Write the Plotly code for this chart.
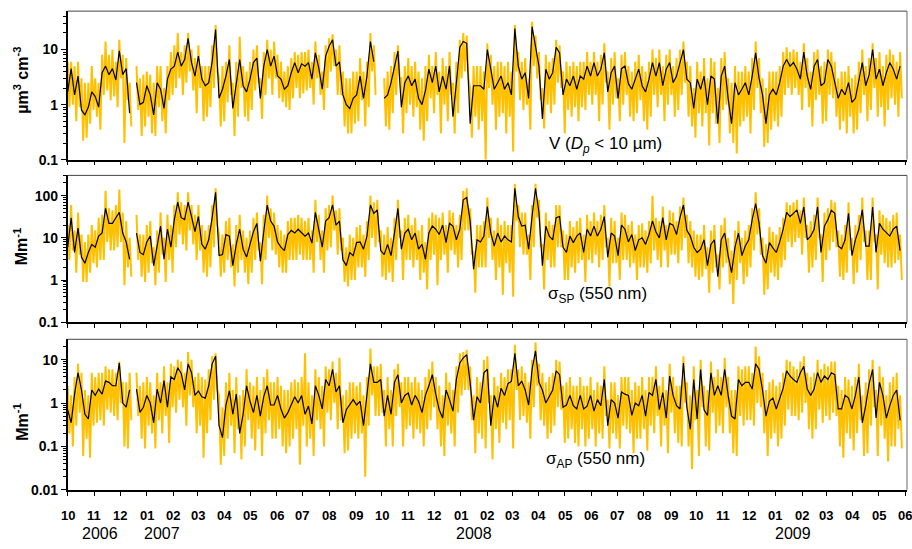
import plotly.graph_objects as go
import pandas as pd

# ---------------- data (4-day steps from 2006-10-01) ----------------
START = "2006-10-01"

# Panel 1: V (Dp < 10 um), um3 cm-3
v_daily = [
    1.7, 4.5, 1.5, 3.3, 0.8, 0.65, 0.9, 1.7, 1.4, 0.9,
    3.8, 5.0, 3.5, 4.5, 2.8, 9.5, 3.5, 4.5, 0.7, None,
    2.5, 1.0, 1.1, 2.2, 1.5, 0.65, 2.5, 1.9, 0.85, 2.9,
    4.4, 5.0, 9.0, 5.0, 6.6, 16, 5.8, 3.3, 7.6, 2.9,
    2.2, 2.5, 6.0, 23, 1.3, 1.9, 3.3, 6.6, 0.85, 2.5,
    6.6, 2.2, 1.7, 2.9, 5.8, 7.0, 1.3, 5.0, 10, 5.0,
    7.6, 3.3, 2.9, 1.9, 2.2, 3.8, 5.8, 3.8, 5.5, 5.0,
    5.8, 2.9, 8.7, 4.6, 1.9, 7.6, 11.5, 15, 5.0, 6.0,
    1.5, 1.0, 0.85, 1.3, 1.5, 3.3, 1.3, 3.3, 14, 6.0,
    None, None, 1.3, 1.5, 2.5, 5.0, 9.4, 0.9, 2.5, 3.3,
    2.2, 2.9, 1.3, 1.0, 1.8, 4.4, 2.5, 5.0, 1.7, 3.3,
    1.9, 5.0, 0.6, 2.5, 11, 14, 13, 0.45, 2.2, 2.2,
    2.2, 1.9, 10, 4.4, 1.9, 2.5, 3.3, 1.9, 2.5, 1.5,
    24, 5.0, 2.9, 3.8, 1.3, 26, 12, 5.0, 0.55, 4.4,
    2.9, 3.8, 11, 8.7, 1.5, 2.9, 2.2, 3.3, 1.9, 3.3,
    2.9, 5.0, 3.3, 5.8, 3.3, 4.4, 8.7, 1.7, 3.8, 5.0,
    1.3, 4.5, 5.0, 2.4, 1.9, 2.9, 4.4, 2.2, 1.7, 2.9,
    5.8, 3.3, 5.8, 2.2, 4.4, 5.8, 2.5, 3.3, 5.8, 10,
    2.9, 2.5, 0.85, 2.9, 1.9, 3.3, 1.0, 3.3, 2.9, 0.45,
    3.3, 5.0, 1.3, 0.45, 2.5, 1.5, 1.9, 2.5, 1.5, 3.3,
    8.7, 3.0, 1.5, 0.45, 1.5, 1.9, 1.5, 2.5, 5.0, 6.6,
    5.0, 5.8, 4.4, 2.9, 9.0, 3.3, 1.9, 5.0, 6.6, 2.2,
    2.5, 6.6, 5.0, 2.5, 1.3, 1.9, 1.5, 2.5, 1.1, 1.3,
    2.9, 5.8, 2.2, 3.5, 10, 2.9, 4.4, 2.2, 3.8, 5.8,
    4.4, 2.9, 5.0,
]
v_hi = [
    6, 6, 5, 6, 3, 2.5, 2.5, 5, 3, 2.5,
    8, 14, 8, 10, 6, 15, 8, 7, 2.5, None,
    5, 3, 3.5, 4, 3.5, 2.5, 5, 5, 2, 5,
    9, 12, 20, 9, 12, 20, 10, 7, 12, 5,
    5, 5, 12, 28, 3, 5, 6, 12, 2.5, 6,
    17, 5, 4, 6, 10, 12, 3, 9, 15, 10,
    14, 8, 6, 4, 5, 7, 9, 8, 9, 9,
    10, 6, 14, 8, 4, 12, 16, 19, 10, 12,
    4, 3, 3, 4, 4, 7, 4, 6, 20, 12,
    None, None, 3, 4, 5, 9, 12, 3, 5, 7,
    5, 6, 4, 3, 5, 8, 5, 9, 4, 7,
    5, 9, 2.5, 6, 15, 20, 18, 2, 5, 5,
    5, 4, 13, 8, 5, 6, 6, 5, 6, 4,
    28, 9, 6, 7, 3, 32, 18, 9, 2, 8,
    6, 7, 15, 12, 4, 6, 5, 6, 5, 6,
    6, 9, 6, 9, 6, 8, 13, 4, 7, 9,
    3, 8, 9, 5, 4, 6, 8, 5, 4, 6,
    10, 7, 10, 5, 8, 10, 5, 7, 10, 14,
    6, 5, 2, 6, 4, 7, 3, 7, 6, 2,
    7, 9, 3, 2.5, 5, 4, 4, 5, 4, 7,
    14, 7, 3, 2, 4, 4, 4, 5, 9, 11,
    9, 10, 9, 6, 13, 7, 4, 9, 10, 5,
    6, 10, 9, 6, 3, 4, 4, 5, 3, 3.5,
    6, 10, 5, 7, 13, 7, 9, 5, 8, 10,
    8, 6, 9,
]
v_lo = [
    0.9, 1.0, 0.5, 0.9, 0.22, 0.25, 0.45, 0.8, 0.6, 0.35,
    1.5, 1.8, 1.2, 1.4, 0.9, 3, 0.2, 1.2, 0.4, None,
    0.8, 0.27, 0.4, 0.6, 0.3, 0.27, 0.9, 0.5, 0.3, 1.2,
    1.5, 2, 3, 1.5, 2.5, 4, 1.8, 0.7, 2, 0.5,
    0.6, 0.9, 2, 4, 0.4, 0.5, 1.1, 1.5, 0.27, 0.6,
    2, 0.6, 0.5, 0.8, 1.8, 2.5, 0.55, 1.5, 3, 1.5,
    3, 1.3, 1.1, 0.9, 0.8, 1.3, 2, 1.3, 1.6, 1.8,
    2, 1, 3, 1.5, 0.8, 2, 4, 5, 1.5, 1.5,
    0.4, 0.3, 0.3, 0.45, 0.5, 1.2, 0.4, 0.9, 4, 1.5,
    None, None, 0.4, 0.35, 0.7, 1.5, 3, 0.3, 0.7, 1,
    0.6, 0.9, 0.35, 0.22, 0.5, 1.3, 0.7, 1.5, 0.3, 1,
    0.5, 1.5, 0.3, 0.7, 3, 4, 3, 0.25, 0.6, 0.35,
    0.5, 0.1, 2, 1, 0.35, 0.6, 0.7, 0.3, 0.6, 0.14,
    4, 1.2, 0.8, 1, 0.35, 5, 3, 1.2, 0.37, 1,
    0.7, 1, 2.5, 2, 0.3, 0.8, 0.6, 0.9, 0.5, 0.9,
    0.8, 1.5, 1, 1.5, 0.5, 1, 2.5, 0.35, 1, 1.3,
    0.5, 1, 1.5, 0.6, 0.5, 0.7, 1.2, 0.5, 0.35, 0.6,
    1.5, 0.9, 1.5, 0.5, 1, 1.5, 0.6, 0.8, 1.5, 2.5,
    0.6, 0.4, 0.25, 0.7, 0.4, 0.7, 0.18, 0.7, 0.45, 0.2,
    0.8, 1, 0.3, 0.2, 0.13, 0.4, 0.5, 0.6, 0.3, 0.8,
    2, 0.7, 0.17, 0.2, 0.35, 0.5, 0.4, 0.6, 1.5, 2,
    1.5, 2, 1.5, 0.8, 2, 0.9, 0.4, 1.2, 1.5, 0.45,
    0.5, 1.5, 1.3, 0.6, 0.35, 0.5, 0.3, 0.6, 0.3, 0.35,
    0.7, 1.5, 0.5, 0.8, 2, 0.6, 0.9, 0.4, 0.8, 1.3,
    1, 0.6, 1.3,
]

# Panel 2: sigma_SP (550 nm), Mm-1
sp_daily = [
    6, 30, 4.5, 17, 3.5, 2.5, 4.5, 7.0, 6, 11,
    13, 50, 22, 22, 30, 40, 13, 8, 3.1, None,
    13, 4.5, 4, 8, 11, 2.2, 6.4, 19, 3.1, 16,
    6, 27, 70, 30, 27, 70, 32, 14, 32, 7,
    5.4, 9, 30, 120, 3.8, 4, 12, 11, 2.2, 7,
    16, 5.4, 3.5, 7, 14, 22, 2.8, 14, 60, 25,
    19, 8, 6, 5, 12, 15, 13, 16, 13, 11,
    13, 7.5, 40, 15, 6, 25, 30, 60, 20, 25,
    3, 2.2, 4.5, 3.8, 7.7, 8, 5.4, 11, 60, 38,
    46, 5, 4, 7, 3.8, 13, 50, 5.4, 13, 16,
    9, 13, 5.4, 7, 3.1, 13, 19, 16, 12, 20,
    7.7, 22, 19, 9, 16, 80, 90, 25, 1.8, 9,
    8, 11, 55, 13, 6.4, 13, 8, 11, 9, 8,
    150, 32, 19, 20, 5.4, 32, 150, 40, 2.2, 19,
    11, 9, 30, 32, 6, 4.5, 11, 7.7, 11, 13,
    4.5, 16, 11, 19, 11, 16, 32, 3.5, 13, 11,
    3.8, 20, 16, 8, 12, 5, 9, 10, 7, 12,
    25, 14, 10, 30, 9, 22, 20, 12, 30, 60,
    15, 11, 6, 4.5, 5.4, 9, 2.2, 7, 9, 1.2,
    9, 13, 3.8, 1.5, 6, 13, 3.8, 6.4, 9, 27,
    65, 22, 3.8, 2.5, 7.7, 5.8, 4.5, 8, 16, 40,
    32, 38, 46, 22, 54, 9, 11, 16, 54, 4.5,
    19, 27, 45, 38, 6.4, 5.5, 9, 38, 3.8, 9,
    16, 46, 6.4, 6.4, 54, 4.5, 22, 16, 13, 11,
    16, 19, 5,
]
sp_hi = [
    20, 60, 15, 40, 12, 8, 12, 20, 15, 30,
    35, 130, 50, 45, 60, 140, 40, 25, 10, None,
    35, 12, 12, 20, 25, 6, 15, 40, 10, 35,
    20, 60, 120, 70, 60, 120, 60, 35, 60, 20,
    15, 20, 60, 150, 12, 12, 25, 30, 7, 20,
    35, 15, 10, 15, 30, 40, 8, 35, 100, 50,
    40, 20, 15, 12, 25, 30, 30, 35, 30, 25,
    30, 15, 80, 35, 15, 50, 60, 100, 45, 50,
    10, 6, 12, 10, 18, 20, 12, 25, 100, 70,
    80, 15, 12, 18, 10, 30, 80, 15, 30, 35,
    20, 30, 15, 20, 8, 30, 40, 35, 30, 40,
    20, 45, 40, 20, 35, 130, 150, 50, 5, 20,
    20, 25, 90, 30, 15, 30, 20, 25, 20, 20,
    190, 60, 40, 40, 12, 60, 190, 80, 7, 40,
    25, 20, 60, 60, 15, 12, 25, 18, 25, 30,
    12, 35, 25, 40, 25, 35, 60, 10, 30, 25,
    10, 40, 35, 20, 25, 12, 20, 22, 15, 25,
    100, 30, 25, 55, 20, 45, 40, 25, 55, 90,
    35, 25, 15, 12, 12, 20, 6, 15, 20, 4,
    20, 30, 10, 5, 15, 25, 10, 15, 20, 50,
    120, 50, 10, 7, 18, 14, 12, 18, 30, 70,
    60, 70, 80, 45, 90, 20, 25, 35, 90, 12,
    40, 50, 80, 70, 15, 12, 20, 70, 10, 20,
    35, 90, 15, 15, 90, 12, 45, 35, 30, 25,
    35, 40, 12,
]
sp_lo = [
    3, 5, 1.5, 4, 0.9, 0.9, 1.5, 2.5, 2, 3,
    3, 8, 5, 5, 6, 8, 0.75, 2, 1.2, None,
    3, 1.2, 0.9, 1.5, 2.5, 0.75, 1.5, 4, 0.9, 3,
    1.5, 6, 12, 7, 5, 15, 7, 3, 5, 1.5,
    1.2, 2, 6, 20, 1.2, 1.5, 3, 2, 0.7, 1.5,
    3, 1.5, 0.8, 1.5, 3, 5, 0.8, 3, 10, 5,
    4, 2, 1.5, 1.5, 3, 3, 3, 4, 3, 3,
    3, 1.5, 8, 3, 1.5, 5, 6, 15, 4, 5,
    0.9, 0.7, 1, 1, 2, 2, 1.2, 3, 10, 6,
    8, 1.2, 1, 1.5, 0.9, 3, 10, 1, 3, 3,
    2, 3, 1, 1.5, 0.6, 3, 4, 0.75, 3, 4,
    1.5, 5, 4, 2, 3, 15, 15, 4, 0.5, 2,
    2, 2, 10, 3, 1, 2, 0.45, 2.5, 1.5, 0.4,
    25, 6, 4, 4, 1, 6, 30, 6, 0.6, 3,
    2, 2, 6, 6, 1, 1, 2, 1.5, 2.5, 3,
    0.9, 3, 2.5, 4, 2, 3, 6, 0.7, 2.5, 2.5,
    1, 3, 3, 2, 2.5, 1, 2, 2, 1.5, 2.5,
    5, 3, 2, 5, 2, 4, 4, 2.5, 5, 10,
    2.5, 2, 1.2, 1, 1.2, 1.8, 0.5, 1.5, 2, 0.6,
    2, 2.5, 0.8, 0.27, 1, 2.5, 0.8, 1.2, 2, 5,
    12, 4, 0.45, 0.6, 1.5, 1.2, 1, 2, 3, 8,
    6, 8, 10, 4, 10, 1.5, 2, 3, 10, 0.9,
    3, 5, 8, 6, 1.2, 1, 1.5, 5, 0.8, 1.5,
    3, 8, 1, 1, 8, 0.6, 4, 2.5, 2, 2,
    2.5, 3, 1,
]

# Panel 3: sigma_AP (550 nm), Mm-1
ap_daily = [
    0.7, 0.35, 1.6, 5.0, 2.0, 0.55, 0.43, 2.0, 1.5, 2.1,
    1.6, 3.2, 3.0, 2.5, 2.5, 8.4, 1.0, 0.8, 2.0, None,
    2.1, 0.61, 0.8, 1.5, 1.0, 0.35, 2.1, 1.0, 3.3, 0.8,
    4.0, 3.5, 6.5, 4.8, 2.0, 8, 5, 1.5, 1.9, 1.4,
    1.3, 2.5, 8, 12, 0.3, 0.16, 0.9, 1.9, 0.55, 1.6,
    0.2, 0.55, 2.5, 1.1, 0.6, 1.5, 0.5, 1.4, 2.5, 0.9,
    0.9, 1.5, 0.73, 0.45, 0.6, 0.9, 1.4, 1.0, 1.5, 0.55,
    0.85, 0.33, 2.5, 1.5, 0.73, 3.5, 2.5, 6.0, 1.8, 2.5,
    0.35, 0.7, 0.9, 1.2, 0.9, 1.1, 0.3, 1.7, 8, 3.0,
    3.0, 3.5, 0.5, 1.5, 0.55, 3.0, 4.5, 1.0, 1.5, 1.7,
    0.9, 1.5, 1.1, 0.6, 1.5, 2.5, 4.5, 1.6, 0.7, 0.45,
    2.0, 1.2, 0.65, 3.5, 8.4, 11, 13, 3.0, 0.4, 1.4,
    1.0, 5, 6, 0.3, 1.5, 0.8, 2.2, 1.5, 2.8, 3.2,
    14, 2.5, 3.2, 2.0, 0.9, 5.9, 16, 3.0, 2.0, 1.0,
    1.4, 2.0, 5.5, 4.5, 0.8, 0.9, 1.5, 0.87, 0.73, 1.5,
    0.73, 0.85, 1.5, 0.65, 1.2, 0.87, 3.5, 0.3, 1.2, 1.0,
    0.45, 1.8, 1.6, 1.5, 0.52, 1.0, 0.87, 1.5, 0.5, 1.75,
    1.5, 3.5, 0.7, 1.75, 0.45, 4.2, 1.5, 0.87, 0.73, 8.4,
    0.8, 0.25, 3.5, 0.43, 5.9, 0.7, 0.52, 5.0, 1.5, 2.5,
    1.5, 6, 1.5, 0.5, 0.43, 3.5, 2.5, 3.0, 3.0, 2.1,
    8, 6, 2.0, 0.5, 1.1, 1.3, 0.73, 1.2, 2.2, 5.5,
    4.2, 3.5, 3.0, 5.0, 7, 2.1, 1.5, 2.1, 5, 3.0,
    4.2, 3.5, 5.0, 4.5, 0.73, 0.73, 1.5, 1.3, 0.73, 1.5,
    4, 0.35, 0.87, 2.8, 5.9, 0.45, 3.0, 1.5, 0.45, 0.87,
    1.5, 2.0, 0.4,
]
ap_hi = [
    2.5, 1.5, 4, 8, 5, 2, 1.5, 5, 4, 5,
    5, 7, 6, 6, 5, 9, 3, 3, 5, None,
    5, 2.5, 3, 4, 3, 1.5, 5, 3, 7, 3,
    8, 7, 10, 9, 5, 15, 10, 4, 5, 4,
    3.5, 6, 12, 14, 1.5, 0.8, 3, 5, 2, 4,
    1.5, 2, 6, 3, 2.5, 4, 2, 4, 6, 3,
    3, 4, 2.5, 2, 2, 3, 3.5, 3, 4, 14,
    3, 1.5, 6, 4, 2.5, 7, 6, 9, 5, 11,
    1.5, 2, 3, 3, 2.5, 3, 1.5, 4, 18, 7,
    7, 8, 2, 4, 2, 6, 8, 3, 4, 4,
    3, 4, 3, 2, 4, 6, 9, 4, 2.5, 1.5,
    5, 3, 2, 7, 14, 15, 17, 7, 1.5, 4,
    3, 10, 12, 1.5, 4, 2.5, 5, 4, 6, 6,
    22, 6, 7, 5, 3, 10, 25, 8, 5, 3,
    4, 5, 10, 9, 2.5, 3, 4, 2.5, 2.5, 4,
    2.5, 2.5, 4, 2, 3, 2.5, 7, 1.2, 3, 3,
    1.5, 4, 4, 4, 2, 3, 2.5, 4, 2, 4,
    4, 7, 2.5, 4, 2, 8, 4, 2.5, 2.5, 12,
    3, 1.5, 7, 2, 10, 2.5, 2, 9, 4, 6,
    4, 11, 4, 2, 2, 7, 6, 7, 7, 5,
    20, 12, 5, 2, 3, 3.5, 2.5, 3, 5, 10,
    9, 7, 6, 9, 12, 5, 4, 5, 10, 6,
    8, 7, 9, 9, 2.5, 2, 4, 3.5, 2.5, 4,
    8, 1.5, 3, 6, 10, 2, 7, 4, 1.5, 3,
    4, 5, 1.5,
]
ap_lo = [
    0.2, 0.1, 0.3, 0.6, 0.06, 0.15, 0.055, 0.3, 0.35, 0.4,
    0.3, 0.7, 0.6, 0.5, 0.4, 1, 0.1, 0.09, 0.4, None,
    0.5, 0.15, 0.09, 0.3, 0.2, 0.09, 0.4, 0.2, 0.5, 0.12,
    0.8, 0.6, 1.2, 0.8, 0.3, 1.5, 0.8, 0.2, 0.3, 0.055,
    0.2, 0.4, 1.2, 2, 0.038, 0.06, 0.15, 0.3, 0.07, 0.25,
    0.05, 0.1, 0.4, 0.15, 0.08, 0.25, 0.06, 0.2, 0.4, 0.15,
    0.15, 0.25, 0.1, 0.07, 0.1, 0.15, 0.25, 0.038, 0.3, 0.1,
    0.15, 0.06, 0.4, 0.25, 0.1, 0.6, 0.4, 1, 0.25, 0.4,
    0.07, 0.08, 0.15, 0.2, 0.15, 0.2, 0.02, 0.3, 1.5, 0.5,
    0.5, 0.6, 0.1, 0.25, 0.1, 0.5, 0.8, 0.1, 0.25, 0.3,
    0.15, 0.25, 0.2, 0.1, 0.25, 0.4, 0.8, 0.25, 0.1, 0.06,
    0.3, 0.2, 0.1, 0.6, 1.5, 2, 2, 0.4, 0.07, 0.2,
    0.15, 0.09, 1, 0.05, 0.25, 0.12, 0.35, 0.25, 0.4, 0.09,
    2, 0.4, 0.5, 0.35, 0.15, 0.8, 2.5, 0.4, 0.3, 0.15,
    0.2, 0.3, 0.8, 0.7, 0.12, 0.15, 0.25, 0.12, 0.1, 0.25,
    0.1, 0.15, 0.25, 0.1, 0.2, 0.15, 0.5, 0.09, 0.2, 0.15,
    0.09, 0.3, 0.25, 0.2, 0.07, 0.15, 0.15, 0.25, 0.08, 0.3,
    0.2, 0.5, 0.1, 0.3, 0.07, 0.6, 0.2, 0.12, 0.1, 1,
    0.1, 0.03, 0.4, 0.06, 0.8, 0.1, 0.08, 0.6, 0.2, 0.3,
    0.2, 0.8, 0.2, 0.07, 0.06, 0.5, 0.3, 0.4, 0.4, 0.3,
    1, 0.8, 0.2, 0.06, 0.15, 0.2, 0.1, 0.15, 0.3, 0.7,
    0.5, 0.5, 0.4, 0.6, 1, 0.25, 0.15, 0.25, 0.7, 0.35,
    0.5, 0.4, 0.6, 0.5, 0.1, 0.055, 0.2, 0.15, 0.08, 0.2,
    0.4, 0.06, 0.07, 0.3, 0.8, 0.06, 0.3, 0.15, 0.045, 0.1,
    0.1, 0.25, 0.09,
]

month_ticks = pd.date_range("2006-10-01", "2009-06-01", freq="MS")
month_labels = [f"{d.month:02d}" for d in month_ticks]
year_labels = ["2006", "2007", "2008", "2009"]
year_pos = ["2006-11-07", "2007-01-19", "2008-01-17", "2009-01-22"]

for arr in (v_daily, v_hi, v_lo, sp_daily, sp_hi, sp_lo, ap_daily, ap_hi, ap_lo):
    assert len(arr) == len(v_daily), len(arr)

dates = pd.date_range(START, periods=len(v_daily), freq="4D")
half = pd.Timedelta(days=2)

ORANGE = "#FFC000"
W, H = 912, 549
X0, X1 = 67.7, 907.0
FONT = "Liberation Sans, Arial, sans-serif"


def ydom(top, bottom):
    return [(H - bottom) / H, (H - top) / H]


panels = [
    dict(daily=v_daily, hi=v_hi, lo=v_lo, dom=ydom(11.3, 162), rng=[-1, 1.698],
         tv=[0.1, 1, 10], tt=["0.1", "1", "10"], dec=(-1, 1)),
    dict(daily=sp_daily, hi=sp_hi, lo=sp_lo, dom=ydom(178, 327), rng=[-1, 2.48],
         tv=[0.1, 1, 10, 100], tt=["0.1", "1", "10", "100"], dec=(-1, 2)),
    dict(daily=ap_daily, hi=ap_hi, lo=ap_lo, dom=ydom(344.3, 497), rng=[-2, 1.47],
         tv=[0.01, 0.1, 1, 10], tt=["0.01", "0.1", "1", "10"], dec=(-2, 1)),
]

fig = go.Figure()
layout = dict(
    width=W, height=H, margin=dict(l=0, r=0, t=0, b=0),
    paper_bgcolor="white", plot_bgcolor="white", showlegend=False,
    font=dict(family=FONT, color="black"),
)
shapes = []
annotations = []

for i, p in enumerate(panels, start=1):
    sfx = "" if i == 1 else str(i)
    xo, yo = [], []
    for k, d in enumerate(dates):
        xo += [d, d + half]
        yo += [p["hi"][k], p["lo"][k]]
    fig.add_trace(go.Scatter(x=xo, y=yo, mode="lines", line=dict(color=ORANGE, width=2.0),
                             xaxis="x" + sfx, yaxis="y" + sfx, hoverinfo="skip"))
    fig.add_trace(go.Scatter(x=dates, y=p["daily"], mode="lines", line=dict(color="black", width=1.2),
                             xaxis="x" + sfx, yaxis="y" + sfx))
    minor_vals = [m * 10 ** e for e in range(p["dec"][0], p["dec"][1] + 2) for m in range(2, 10)]
    layout["xaxis" + sfx] = dict(
        type="date", range=["2006-10-01", "2009-06-03"], domain=[X0 / W, X1 / W],
        anchor="y" + sfx, tickvals=list(month_ticks), showticklabels=False,
        ticks="outside", ticklen=4, tickwidth=1, tickcolor="black",
        showline=True, linecolor="black", linewidth=1.5, showgrid=False, zeroline=False,
    )
    layout["yaxis" + sfx] = dict(
        type="log", range=p["rng"], domain=p["dom"], anchor="x" + sfx,
        tickvals=p["tv"], ticktext=p["tt"], ticks="outside", ticklen=5, tickwidth=1,
        tickcolor="black", showline=True, linecolor="black", linewidth=1.5,
        showgrid=False, zeroline=False,
        tickfont=dict(family=FONT, size=14, color="black", weight="bold"),
        minor=dict(tickvals=minor_vals, ticks="outside", ticklen=3, tickcolor="black", showgrid=False),
    )
    xd, yd = "x" + sfx + " domain", "y" + sfx + " domain"
    shapes.append(dict(type="line", xref=xd, yref=yd, x0=0, x1=1, y0=1, y1=1,
                       line=dict(color="#444444", width=1)))
    shapes.append(dict(type="line", xref=xd, yref=yd, x0=1, x1=1, y0=0, y1=1,
                       line=dict(color="#666666", width=1)))

# y-axis titles
for txt, ypix in [("µm<sup>3</sup> cm<sup>-3</sup>", 82), ("Mm<sup>-1</sup>", 250), ("Mm<sup>-1</sup>", 428)]:
    annotations.append(dict(text=txt, xref="paper", yref="paper", x=21 / W, y=(H - ypix) / H,
                            textangle=-90, showarrow=False, xanchor="center", yanchor="middle",
                            font=dict(family=FONT, size=16, color="black", weight="bold")))

# panel labels
for txt, xpix, ypix in [("V (<i>D</i><sub><i>p</i></sub> &lt; 10 µm)", 605, 147),
                        ("σ<sub>SP</sub> (550 nm)", 597, 299),
                        ("σ<sub>AP</sub> (550 nm)", 595, 467)]:
    annotations.append(dict(text=txt, xref="paper", yref="paper", x=xpix / W, y=(H - ypix) / H,
                            showarrow=False, xanchor="center", yanchor="middle",
                            font=dict(family=FONT, size=17, color="black")))

# month tick labels
for d, lab in zip(month_ticks, month_labels):
    annotations.append(dict(text=lab, xref="x3", yref="paper", x=d, y=(H - 523) / H,
                            showarrow=False, xanchor="center", yanchor="middle",
                            font=dict(family=FONT, size=13, color="black", weight="bold")))
# year labels
for d, lab in zip(year_pos, year_labels):
    annotations.append(dict(text=lab, xref="x3", yref="paper", x=d, y=(H - 541) / H,
                            showarrow=False, xanchor="center", yanchor="middle",
                            font=dict(family=FONT, size=16, color="black")))

layout["shapes"] = shapes
layout["annotations"] = annotations
fig.update_layout(**layout)
fig.write_html("out.html")
